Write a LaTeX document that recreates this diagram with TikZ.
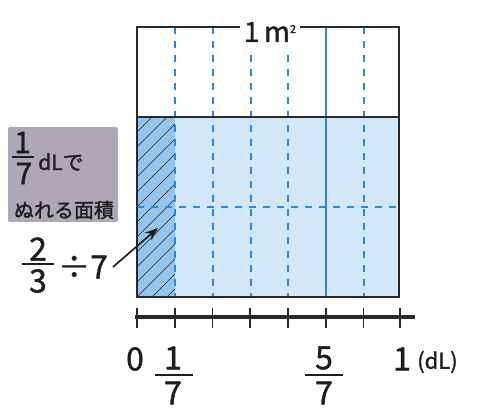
\documentclass[tikz,border=0pt]{standalone}
\usepackage{fontspec}
\setmainfont{Noto Sans CJK JP}
\newfontfamily\heavy{Noto Sans CJK JP}[FakeBold=1.2]
\usetikzlibrary{arrows.meta}
\definecolor{lblue}{RGB}{210,231,248}
\definecolor{mblue}{RGB}{150,196,236}
\definecolor{gblue}{RGB}{45,135,215}
\definecolor{boxgray}{RGB}{174,168,180}
\definecolor{framec}{RGB}{40,40,40}
\definecolor{inkc}{RGB}{30,30,30}
\begin{document}
\begin{tikzpicture}[x=1pt,y=-1pt,
  txt/.style={inner sep=0pt,text=inkc},
  bigdigit/.style={txt,font=\heavy\fontsize{32}{34}\selectfont},
  fracbar/.style={draw=inkc,line width=2.2pt},
  griddash/.style={draw=gblue,line width=2pt,dash pattern=on 7pt off 7pt},
  gridsolid/.style={draw=gblue,line width=1.6pt},
  tickmark/.style={draw=framec,line width=1.7pt}]
\useasboundingbox (0,0) rectangle (477,411);
\fill[white] (0,0) rectangle (477,411);
% fills
\fill[lblue] (137,117) rectangle (399,297);
\fill[mblue] (137,117) rectangle (175,297);
\begin{scope}
\clip (137,117) rectangle (175,297);
\foreach \k in {0,...,16}{
  \draw[inkc,line width=0.7pt] (137,{117+15*\k}) -- (187,{117+15*\k-50});
}
\end{scope}
% grid
\foreach \gx in {175,212.5,250.5,288,363.5}{
  \draw[griddash] (\gx,27) -- (\gx,297);
}
\draw[gridsolid] (326,27) -- (326,297);
\draw[griddash] (137,207) -- (399,207);
% frame
\draw[framec,line width=1.6pt] (137,117) -- (399,117);
\draw[framec,line width=2pt] (137,27) rectangle (399,297);
\node[txt,fill=white,inner xsep=4pt,inner ysep=6pt,anchor=base,font=\heavy\fontsize{28}{30}\selectfont] (title) at (270,42) {1\,m\raisebox{9pt}{\fontsize{11}{11}\selectfont 2}};
% number line
\draw[framec,line width=4pt] (135,317) coordinate (nlstart) -- (415,317) coordinate (nlend);
\foreach \tx in {137,175,212.5,250,288,326,363.5,400}{
  \draw[tickmark] (\tx,308) -- (\tx,328);
}
\node[bigdigit] (zero) at (135,359) {0};
\node[bigdigit] (n1) at (173,358) {1};
\draw[fracbar] (155,375) -- (193,375);
\node[bigdigit] (d1) at (173,393) {7};
\node[bigdigit] (n5) at (324,358) {5};
\draw[fracbar] (305,375) -- (343,375);
\node[bigdigit] (d5) at (324,393) {7};
\node[bigdigit] (one) at (402,359) {1};
\node[txt,font=\heavy\fontsize{22}{24}\selectfont,anchor=west] (unit) at (417,362) {(dL)};
% left label box
\node[fill=boxgray,rounded corners=2pt,minimum width=110pt,minimum height=95pt,inner sep=0pt] (lbox) at (63,174.5) {};
\node[txt,font=\heavy\fontsize{30}{32}\selectfont] (bn) at (22.5,142.5) {1};
\draw[fracbar] (12,157) -- (34,157);
\node[txt,font=\heavy\fontsize{30}{32}\selectfont] (bd) at (24,173.5) {7};
\node[txt,font=\heavy\fontsize{21}{24}\selectfont,anchor=west] (dlte) at (38,162) {dLで};
\node[txt,font=\heavy\fontsize{20}{22}\selectfont] (nureru) at (64,210) {ぬれる面積};
% 2/3 / 7
\node[bigdigit] (tn) at (38,249) {2};
\draw[fracbar] (22,264) -- (54,264);
\node[bigdigit] (td) at (38,281) {3};
\node[bigdigit,anchor=west] (div) at (58,267) {÷7};
\coordinate (astart) at (113,267);
\coordinate (atip) at (158,228);
\draw[inkc,line width=1.7pt,-{Stealth[length=13pt,width=10pt]}] (astart) -- (atip);
\end{tikzpicture}
\end{document}
